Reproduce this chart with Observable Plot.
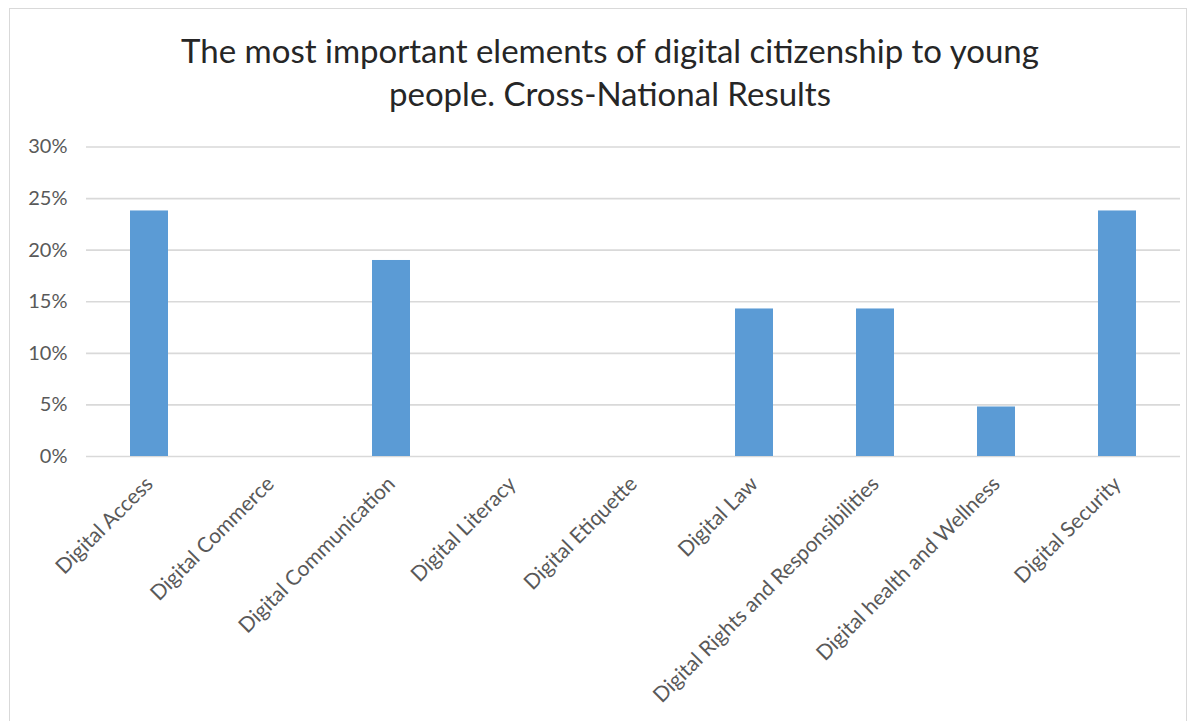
<!DOCTYPE html>
<html>
<head>
<meta charset="utf-8">
<script src="https://cdn.jsdelivr.net/npm/d3@7"></script>
<script src="https://cdn.jsdelivr.net/npm/@observablehq/plot@0.6"></script>
<style>
  html, body { margin: 0; padding: 0; background: #fff; }
  body { width: 1196px; height: 721px; position: relative; overflow: hidden; font-family: Lato, "Open Sans", sans-serif; }
  #frame { position: absolute; left: 9px; top: 8px; width: 1178px; height: 730px; border: 1px solid #d9d9d9; box-sizing: border-box; }
  #title { position: absolute; left: 0; top: 29px; width: 1220px; text-align: center; font-size: 33px; line-height: 43px; color: #262626; font-weight: 400; }
  #chart { position: absolute; left: 0; top: 130px; }
</style>
</head>
<body>
<div id="frame"></div>
<div id="title">The most important elements of digital citizenship to young<br>people. Cross-National Results</div>
<div id="chart"></div>
<script>
const categories = [
  "Digital Access",
  "Digital Commerce",
  "Digital Communication",
  "Digital Literacy",
  "Digital Etiquette",
  "Digital Law",
  "Digital Rights and Responsibilities",
  "Digital health and Wellness",
  "Digital Security"
];
const values = [0.238, 0, 0.190, 0, 0, 0.143, 0.143, 0.048, 0.238];
const yTicks = [0, 0.05, 0.10, 0.15, 0.20, 0.25, 0.30];

const data = categories.map((c, i) => ({category: c, value: values[i]}));

const chart = Plot.plot({
  width: 1196,
  height: 591,
  marginTop: 16.5,
  marginBottom: 265,
  marginLeft: 86,
  marginRight: 16,
  style: {fontFamily: "Lato, 'Open Sans', sans-serif", fontSize: "20px", color: "#595959", background: "transparent"},
  x: {domain: categories, paddingInner: 0.683, paddingOuter: 0.3415, label: null},
  y: {domain: [0, 0.30], ticks: yTicks, label: null},
  marks: [
    Plot.ruleY(yTicks, {stroke: "#d9d9d9", strokeWidth: 1.6}),
    Plot.barY(data, {x: "category", y: "value", fill: "#5b9bd5"}),
    Plot.axisY({ticks: yTicks, tickFormat: d3.format(".0%"), tickSize: 0, tickPadding: 19, label: null, fill: "#595959", fontSize: 20}),
    Plot.axisX({tickSize: 0, tickPadding: 24, tickRotate: -45, label: null, fill: "#595959", fontSize: 21})
  ]
});
document.getElementById("chart").appendChild(chart);
</script>
</body>
</html>
